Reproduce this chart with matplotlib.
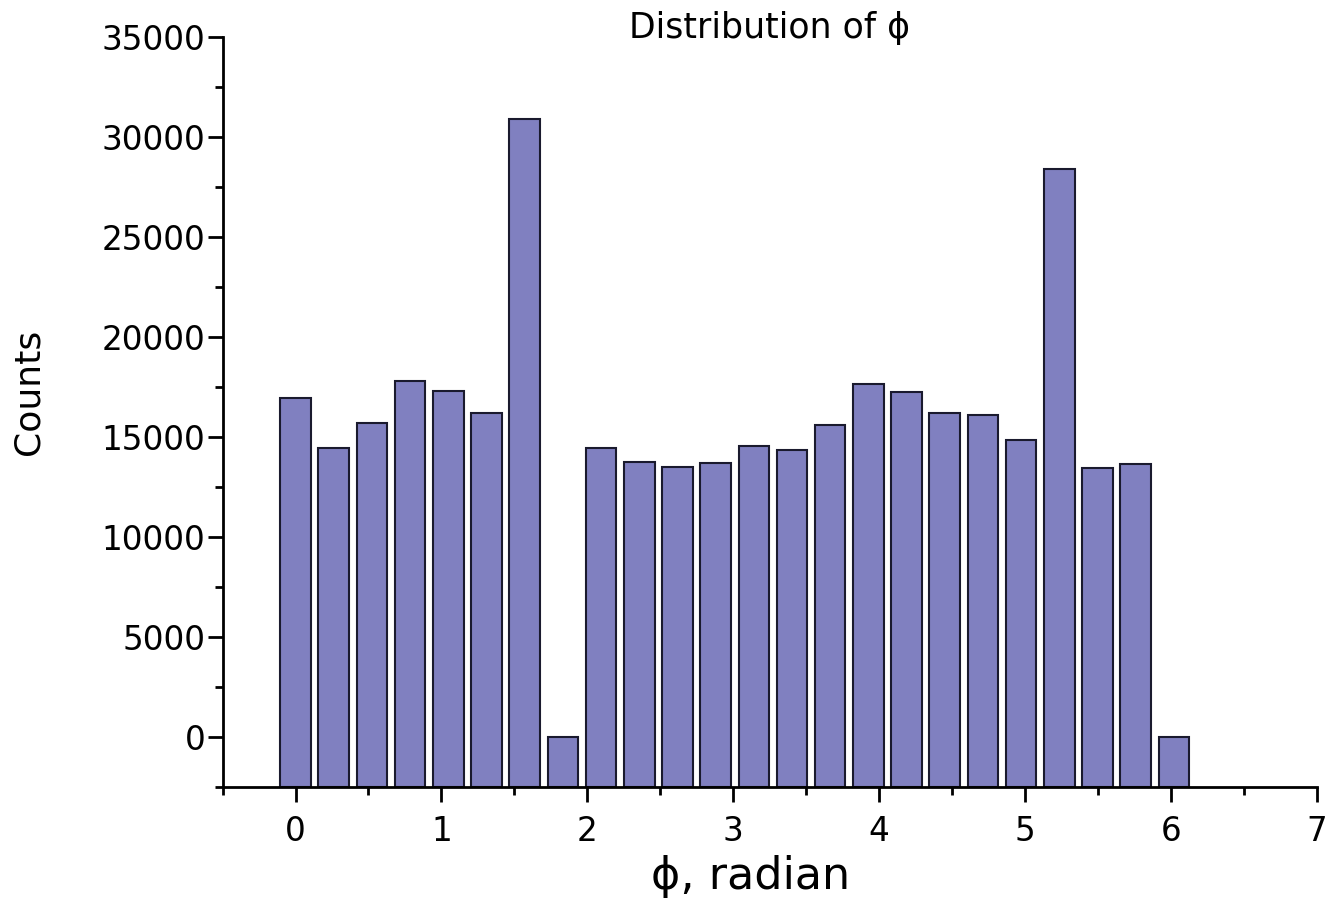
import matplotlib
matplotlib.use('Agg')
import matplotlib.pyplot as plt
import numpy as np
from matplotlib.ticker import MultipleLocator

plt.rcParams['font.family'] = ['DejaVu Sans']

# bin index (width pi/12) and counts
bin_index = np.arange(24)
counts = [16920, 14450, 15700, 17790, 17290, 16170, 30870, 0,
          14420, 13740, 13500, 13700, 14540, 14350, 15570, 17640,
          17220, 16170, 16070, 14840, 28370, 13450, 13640, 0]

phi = bin_index * np.pi / 12
base = -2500

fig = plt.figure(figsize=(13.29, 9.23), dpi=100)
ax = fig.add_axes([0.1675, 0.1477, 0.8232, 0.8125])

heights = np.array(counts) - base
ax.bar(phi, heights, bottom=base, width=0.8 * np.pi / 12,
       color='#8080C0', edgecolor='#1a1a2e', linewidth=1.5, zorder=2)

ax.set_xlim(-0.5, 7)
ax.set_ylim(-2500, 35000)
ax.xaxis.set_major_locator(MultipleLocator(1))
ax.xaxis.set_minor_locator(MultipleLocator(0.5))
ax.yaxis.set_minor_locator(MultipleLocator(2500))
ax.set_yticks(np.arange(0, 35001, 5000))

for s in ['top', 'right']:
    ax.spines[s].set_visible(False)
for s in ['left', 'bottom']:
    ax.spines[s].set_linewidth(2)
    ax.spines[s].set_zorder(3)

ax.tick_params(which='major', length=11, width=2, labelsize=23.5)
ax.tick_params(which='minor', length=6, width=2)
ax.tick_params(axis='x', which='major', pad=9.5)
ax.tick_params(axis='y', which='major', pad=1.5)

ax.set_title('Distribution of \u03d5', fontsize=25, pad=0, y=0.998)
ax.set_ylabel('Counts', fontsize=26)
ax.yaxis.set_label_coords(-0.162, 0.526)
ax.set_xlabel('\u03d5, radian', fontsize=32, verticalalignment='baseline')
ax.xaxis.set_label_coords(0.483, -0.1364)

fig.savefig('out.png', dpi=100)
